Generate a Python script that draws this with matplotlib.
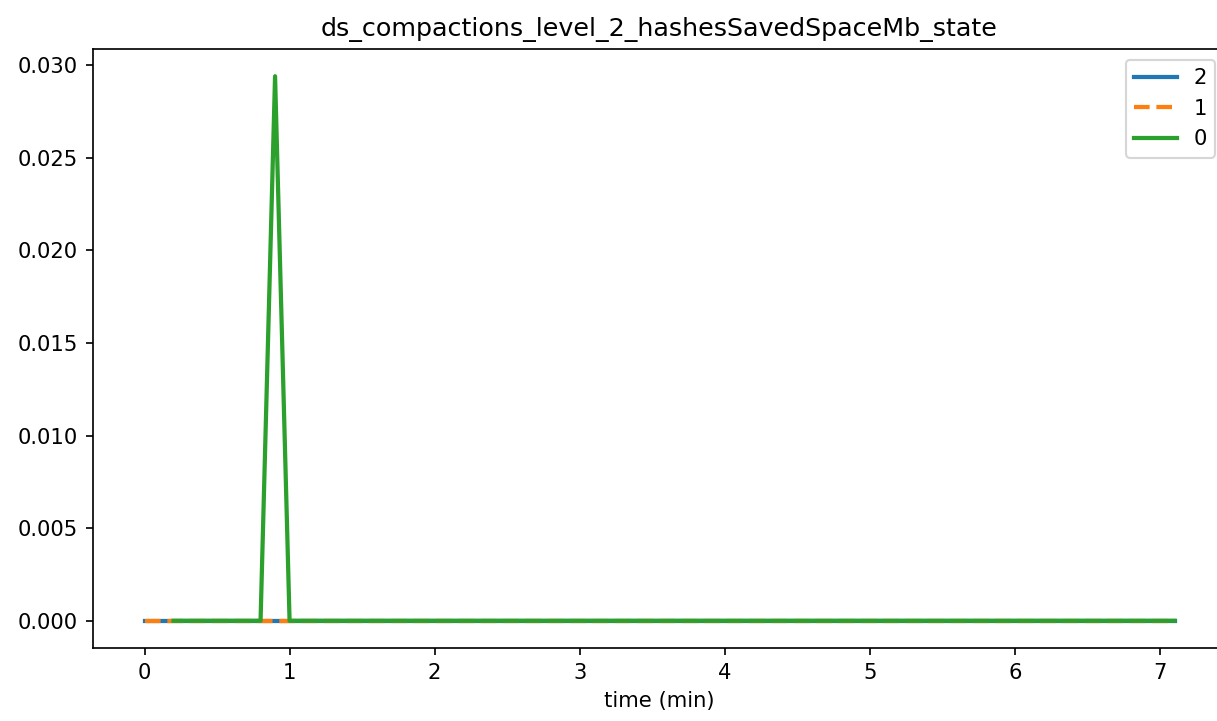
import numpy as np
import matplotlib
matplotlib.use("Agg")
import matplotlib.pyplot as plt

# time axis (min), sampled every 0.1 min
t_all = np.round(np.arange(0, 72) * 0.1, 1)
t_green = t_all[2:]

series_2 = np.zeros(len(t_all))
series_1 = np.zeros(len(t_all))
series_0 = np.zeros(len(t_green))
series_0[list(t_green).index(0.9)] = 0.0294

dpi = 152
fig = plt.figure(figsize=(1217 / dpi, 721 / dpi), dpi=dpi)
ax = fig.add_axes([93 / 1217, (721 - 648) / 721, (1226 - 93) / 1217, (648 - 49) / 721])

lw = 2
ax.plot(t_all, series_2, color="#1f77b4", lw=lw, label="2")
ax.plot(t_all, series_1, color="#ff7f0e", lw=lw, ls="--", label="1")
ax.plot(t_green, series_0, color="#2ca02c", lw=lw, label="0")

ax.set_title("ds_compactions_level_2_hashesSavedSpaceMb_state")
ax.set_xlabel("time (min)")
ax.yaxis.set_major_formatter(matplotlib.ticker.FormatStrFormatter("%.3f"))

ax.legend(loc="upper right")

fig.savefig("out.png", dpi=dpi)
